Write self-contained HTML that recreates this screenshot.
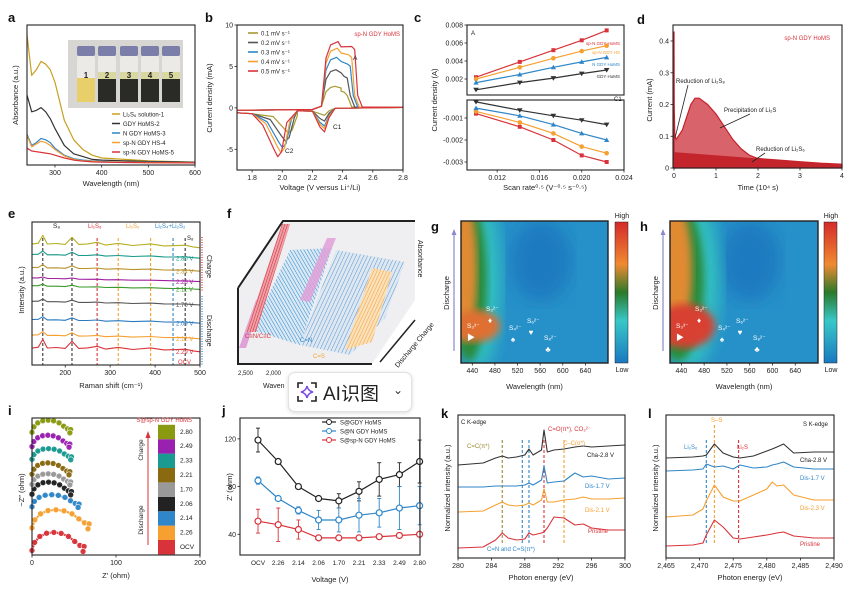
<!DOCTYPE html>
<html><head><meta charset="utf-8"><style>
html,body{margin:0;padding:0;background:#fff;}
svg{display:block;font-family:"Liberation Sans","Noto Sans CJK SC",sans-serif;}
</style></head><body>
<svg id="fig" width="865" height="589" viewBox="0 0 865 589" xmlns="http://www.w3.org/2000/svg">
<defs>
<linearGradient id="cbar" x1="0" y1="0" x2="0" y2="1">
<stop offset="0" stop-color="#d42a2a"/><stop offset="0.3" stop-color="#f08a30"/><stop offset="0.5" stop-color="#2a7a2a"/><stop offset="0.7" stop-color="#38c8c8"/><stop offset="1" stop-color="#1a78c0"/>
</linearGradient>
<filter id="blur8"><feGaussianBlur stdDeviation="8"/></filter>
<filter id="blur4"><feGaussianBlur stdDeviation="4"/></filter>
<clipPath id="clipG"><rect x="461" y="221" width="147" height="142"/></clipPath>
<clipPath id="clipH"><rect x="670" y="221" width="148" height="142"/></clipPath>
<pattern id="pBlue" width="3" height="3" patternUnits="userSpaceOnUse" patternTransform="rotate(-30)"><rect width="3" height="3" fill="#d8e8f4"/><line x1="0" y1="0" x2="0" y2="3" stroke="#2f86c8" stroke-width="1"/></pattern>
<pattern id="pRed" width="2.5" height="3" patternUnits="userSpaceOnUse" patternTransform="rotate(18)"><rect width="3" height="3" fill="#f0a0a8"/><line x1="0" y1="0" x2="0" y2="3" stroke="#d0303a" stroke-width="1.1"/></pattern>
<pattern id="pOra" width="3" height="3" patternUnits="userSpaceOnUse" patternTransform="rotate(25)"><rect width="3" height="3" fill="#fbe0b8"/><line x1="0" y1="0" x2="0" y2="3" stroke="#f0a040" stroke-width="1"/></pattern>
<pattern id="pBlue2" width="3.5" height="3" patternUnits="userSpaceOnUse" patternTransform="rotate(25)"><rect width="4" height="3" fill="#dde8f2"/><line x1="0" y1="0" x2="0" y2="3" stroke="#4a8ac8" stroke-width="0.9"/></pattern>
</defs>
<rect x="0" y="0" width="865" height="589" fill="#fff"/>
</svg>
<script>
// ---------- data ----------
const aWave=[240,250,260,270,280,290,300,320,340,360,380,400,450,500,600];
const aLi2S6=[0.93,0.64,0.68,0.74,0.72,0.68,0.59,0.32,0.18,0.11,0.07,0.05,0.04,0.03,0.02];
const aGDY=[0.50,0.38,0.39,0.41,0.38,0.33,0.26,0.14,0.08,0.06,0.04,0.035,0.03,0.025,0.02];
const aNGDY=[0.22,0.14,0.16,0.19,0.18,0.16,0.12,0.07,0.045,0.035,0.03,0.025,0.02,0.02,0.015];
const aSpHS=[0.21,0.13,0.15,0.17,0.16,0.14,0.11,0.065,0.04,0.03,0.027,0.023,0.02,0.018,0.015];
const aSpHoMS=[0.12,0.10,0.095,0.09,0.085,0.08,0.07,0.05,0.035,0.027,0.022,0.02,0.018,0.016,0.015];
const aTicks=[300,400,500,600];

const cvRates=['0.1','0.2','0.3','0.4','0.5'];
const cvPeakA=[2.6,4.6,6.1,7.2,8.0];
const cvPeakA2=[2.0,3.8,5.3,6.4,7.4];
const cvEndA=[2.41,2.43,2.45,2.46,2.48];
const cvC1=[-0.9,-1.6,-2.2,-2.5,-2.9];
const cvC2=[-3.0,-4.0,-4.8,-5.4,-5.9];
const cvC2V=[2.04,2.02,2.00,1.99,1.97];
const bXTicks=[1.8,2.0,2.2,2.4,2.6,2.8];
const bYTicks=[10,5,0,-5];

const cRate=[0.010,0.01414,0.01732,0.020,0.02236];
const cA_sp=[0.0022,0.0039,0.0052,0.0063,0.0074];
const cA_hs=[0.0020,0.0033,0.0043,0.0051,0.0057];
const cA_n=[0.0016,0.0025,0.0033,0.0039,0.0044];
const cA_g=[0.0008,0.0016,0.0021,0.0026,0.0030];
const cC_g=[-0.00027,-0.00065,-0.0009,-0.0011,-0.0013];
const cC_n=[-0.00055,-0.0009,-0.0013,-0.0017,-0.0020];
const cC_hs=[-0.0007,-0.0012,-0.0017,-0.0023,-0.0026];
const cC_sp=[-0.0008,-0.0014,-0.002,-0.0027,-0.0030];
const cXTicks=[0.012,0.016,0.020,0.024];

const dTime=[0,0.005,0.02,0.05,0.1,0.2,0.3,0.4,0.5,0.6,0.8,1.0,1.2,1.4,1.6,1.8,2.0,2.5,3,3.5,4];
const dCurrent=[0.43,0.2,0.1,0.09,0.1,0.12,0.16,0.2,0.22,0.22,0.2,0.17,0.13,0.09,0.06,0.04,0.03,0.025,0.02,0.015,0.012];
const dBase=[0.05,0.01];
const dYTicks=[0,0.1,0.2,0.3,0.4];
const dXTicks=[0,1,2,3,4];

const eShift=[126,140,150,160,180,200,215,230,250,271,290,318,350,390,420,440,467,485,500];
const eProfile=[0,0.3,2.5,0.2,0.4,0.2,2.2,0.3,0.5,1.0,0.3,0.8,0.3,0.8,0.3,0.4,0.6,0.2,0];
const eOffset=[40,36,31,27,24,18,11,5,0];
const eScale=[1.4,0.6,0.5,0.2,0.3,0.4,0.5,0.6,1.4];
const eLabels=['','2.80 V','2.34 V','2.26 V','2.11 V','1.70 V','2.09 V','2.12 V','2.29 V','OCV'];
const eXTicks=[200,300,400,500];

const iWidth=[62,68,56,47,46,45,47,45,46];
const iHeight=[24,24,16,16,14,15,14,15,16];
const iBase=[3,30,56,71,83,95,113,128,145];
const iShapeU=[0,0.05,0.15,0.28,0.42,0.56,0.7,0.82,0.92,1.0,0.98];
const iShapeV=[0.1,0.5,0.8,0.96,1,0.95,0.8,0.55,0.35,0.3,0.05];
const iLabels=['OCV','2.26','2.14','2.06','1.70','2.21','2.33','2.49','2.80'];
const iXTicks=[0,100,200];

const jCats=['OCV','2.26','2.14','2.06','1.70','2.21','2.33','2.49','2.80'];
const jGDY=[119,101,80,70,68,76,86,90,101];
const jGDYerr=[10,0,0,0,6,8,14,10,18];
const jN=[85,70,60,52,52,56,58,62,64];
const jNerr=[3,0,3,8,10,14,12,18,16];
const jSp=[51,48,44,37,37,37,38,39,40];
const jSperr=[10,14,8,0,0,0,0,0,0];
const jYTicks=[40,80,120];

const kE=[280,283,284.5,285.3,286,287,288,288.5,289,290,290.3,290.7,291.5,292.7,294,295,296,298,300];
const kCha=[10,10.2,10.7,10.9,10.7,10.8,11,11.6,11,11.5,13.5,11.3,11.5,11.6,11.8,11.9,11.8,11.9,12];
const kDis17=[7.8,7.8,7.9,7.9,7.9,7.9,8,8.2,8,8.5,9.9,8.2,8.3,8.4,9.2,8.8,8.9,8.6,8.7];
const kDis21=[5.3,5.4,6,6.3,6,5.9,6,6.2,6,6.5,7.6,6.3,6.3,6.5,6.6,6.8,6.6,6.6,6.7];
const kPri=[1.7,1.8,2.5,3.2,2.7,2.5,2.6,3.2,3,3.2,3.3,3.7,4.8,4.7,4,4.1,3.7,3.5,3.5];
const kXTicks=[280,284,288,292,296,300];

const lE=[2465,2469,2470.5,2471,2472.2,2473.5,2475,2476,2478,2480,2480.8,2481.5,2482.5,2484,2487,2490];
const lCha=[10.7,10.8,10.9,11.0,12.1,11.2,10.8,10.7,10.9,11.4,11.6,11.8,12.1,11.2,11.3,11.3];
const lDis17=[9.4,9.5,9.6,10.1,9.8,9.9,9.6,10.0,9.7,9.8,10.0,10.1,10.3,9.8,9.6,9.6];
const lDis23=[4.8,5.0,5.6,6.4,8.0,6.8,6.4,6.4,7.0,7.6,8.3,7.9,8.0,7.0,6.5,6.5];
const lPri=[1.9,2.0,2.2,3.0,4.5,3.8,2.7,2.6,2.8,3.0,3.1,3.2,3.3,2.9,2.7,2.7];
const lXTicks=[2465,2470,2475,2480,2485,2490];

// ---------- helpers ----------
const NS='http://www.w3.org/2000/svg';
const svg=document.getElementById('fig');
function mk(tag,at,name,parent){
  const el=document.createElementNS(NS,tag);
  for(const k in at) el.setAttribute(k,at[k]);
  
  
  (parent||svg).appendChild(el);
  return el;
}
function txt(x,y,s,name,o){
  o=o||{};
  const el=mk('text',{x:x,y:y,'font-size':o.fs||7,fill:o.fill||'#222','text-anchor':o.anchor||'start','font-weight':o.fw||'normal'},name);
  if(o.rot) el.setAttribute('transform','rotate('+o.rot+' '+x+' '+y+')');
  el.textContent=s;
  return el;
}
function sc(d0,d1,r0,r1){return v=>r0+(v-d0)*(r1-r0)/(d1-d0);}
function box(x0,y0,x1,y1,name){mk('rect',{x:x0,y:y0,width:x1-x0,height:y1-y0,fill:'none',stroke:'#222','stroke-width':1.1},name);}
function line(xs,ys,X,Y,color,name,w,dash){
  let d='';for(let i=0;i<xs.length;i++) d+=(i?'L':'M')+X(xs[i]).toFixed(1)+' '+Y(ys[i]).toFixed(1);
  const at={d:d,fill:'none',stroke:color,'stroke-width':w||1.2,'stroke-linejoin':'round'};
  if(dash) at['stroke-dasharray']=dash;
  return mk('path',at,name);
}
function xticks(ticks,X,y,name,fmt){ticks.forEach(t=>{mk('line',{x1:X(t),y1:y,x2:X(t),y2:y+2.5,stroke:'#222','stroke-width':0.8},name+'-tick');txt(X(t),y+10,fmt?fmt(t):String(t),name+'-label',{anchor:'middle'});});}
function yticks(ticks,Y,x,name,fmt){ticks.forEach(t=>{mk('line',{x1:x-2.5,y1:Y(t),x2:x,y2:Y(t),stroke:'#222','stroke-width':0.8},name+'-tick');txt(x-4,Y(t)+2.5,fmt?fmt(t):String(t),name+'-label',{anchor:'end'});});}
function vdash(x,y0,y1,color,name,dash){mk('line',{x1:x,y1:y0,x2:x,y2:y1,stroke:color,'stroke-width':1.1,'stroke-dasharray':dash||'3,2'},name);}
function letter(x,y,s){txt(x,y,s,'panel-label-'+s,{fs:13,fw:'bold',fill:'#111'});}
const RED='#d8333a',ORA='#f5a030',BLU='#2f86c8',BLK='#333',GOLD='#c8a020';

// ---------- panel a ----------
letter(8,22,'a');
{const X=sc(240,600,27,195),Y=sc(0,1,165,25);
 mk('rect',{x:68,y:40,width:115,height:68,fill:'#d8d6d2'},'vial-photo');
 const vx=[77,98,120,141,162];
 vx.forEach((x,i)=>{mk('rect',{x:x,y:46,width:18,height:10,fill:'#7a7ea8',rx:2},'vial-cap');
   mk('rect',{x:x,y:56,width:18,height:46,fill:'#eceae6',rx:2},'vial-body');
   mk('rect',{x:x,y:78,width:18,height:24,fill:i==0?'#e8cf6a':'#2a2a26'},'vial-liquid');
   if(i>0) mk('rect',{x:x,y:72,width:18,height:7,fill:'#d9d8a0'},'vial-supernatant');
   txt(x+9,78,String(i+1),'vial-number',{fs:8,anchor:'middle',fw:'bold',fill:'#222'});});
 line(aWave,aLi2S6,X,Y,GOLD,'line-li2s6');line(aWave,aGDY,X,Y,BLK,'line-gdy-homs');
 line(aWave,aNGDY,X,Y,BLU,'line-n-gdy-homs');line(aWave,aSpHS,X,Y,ORA,'line-sp-n-gdy-hs');line(aWave,aSpHoMS,X,Y,RED,'line-sp-n-gdy-homs');
 box(27,25,195,165,'plot-a-frame');xticks(aTicks,X,165,'a-x');
 txt(111,186,'Wavelength (nm)','a-x-title',{fs:7.5,anchor:'middle'});
 txt(18,95,'Absorbance (a.u.)','a-y-title',{fs:7.5,anchor:'middle',rot:-90});
 const lg=[['Li₂S₆ solution-1',GOLD],['GDY HoMS-2',BLK],['N GDY HoMS-3',BLU],['sp-N GDY HS-4',ORA],['sp-N GDY HoMS-5',RED]];
 lg.forEach((l,i)=>{mk('line',{x1:112,y1:114+i*9.5,x2:120,y2:114+i*9.5,stroke:l[1],'stroke-width':1.5},'legend-a-swatch');txt(123,116.5+i*9.5,l[0],'legend-a-entry',{fs:6});});
}
// ---------- panel b ----------
letter(205,22,'b');
{const X=sc(1.7,2.8,237,403),Y=sc(-7.5,10,170,25);
 const cols=['#a89a30','#555',BLU,ORA,RED];
 cvRates.forEach((r,i)=>{
  const pa=cvPeakA[i],pb=cvPeakA2[i],ea=cvEndA[i],c1=cvC1[i],c2=cvC2[i],cv=cvC2V[i];
  const vs=[1.7,2.2,2.26,2.29,2.32,2.35+i*0.005,2.39,ea-0.02,ea,ea+0.02,ea+0.05,2.8,2.35,2.31,2.28,2.25,2.2,2.1,cv+0.06,cv+0.025,cv,cv-0.025,cv-0.1,1.8,1.7];
  const is=[-0.3,-0.2,0.2,pa*0.75,pa*0.95,pa,pa*0.92,pb,pb*0.95,1.5,0.1,0.05,-0.05,c1*0.4,c1,c1*0.8,-0.4,-0.35,c2*0.3,c2*0.9,c2,c2*0.85,c2*0.35,-0.7,-0.6];
  line(vs,is,X,Y,cols[i],'cv-curve-'+r);
  mk('line',{x1:248,y1:33+i*9.5,x2:258,y2:33+i*9.5,stroke:cols[i],'stroke-width':1.6},'legend-b-swatch');
  txt(261,35.5+i*9.5,r+' mV s⁻¹','legend-b-entry',{fs:6});});
 box(237,25,403,170,'plot-b-frame');xticks(bXTicks,X,170,'b-x',t=>t.toFixed(1));yticks(bYTicks,Y,237,'b-y');
 txt(320,190,'Voltage (V versus Li⁺/Li)','b-x-title',{fs:7.5,anchor:'middle'});
 txt(212,98,'Current density (mA)','b-y-title',{fs:7.5,anchor:'middle',rot:-90});
 txt(400,36,'sp-N GDY HoMS','b-title',{fs:6,fill:RED,anchor:'end'});
 txt(353,60,'A','b-peak-a',{fs:6.5});txt(333,129,'C1','b-peak-c1',{fs:6.5});txt(285,153,'C2','b-peak-c2',{fs:6.5});
}
// ---------- panel c ----------
letter(414,22,'c');
{const X=sc(0.010,0.024,476,624),Yt=sc(0,0.008,97,25),Yb=sc(0,-0.003,96,162);
 const cols=[RED,ORA,BLU,BLK];
 const top=[cA_sp,cA_hs,cA_n,cA_g],bot=[cC_sp,cC_hs,cC_n,cC_g];
 const mks=['square','circle','tri','tridown'];
 function marker(x,y,t,c,name){
   if(t=='square') mk('rect',{x:x-2,y:y-2,width:4,height:4,fill:c},name);
   else if(t=='circle') mk('circle',{cx:x,cy:y,r:2.3,fill:c},name);
   else if(t=='tri') mk('path',{d:`M${x} ${y-2.6}L${x+2.6} ${y+2}L${x-2.6} ${y+2}Z`,fill:c},name);
   else mk('path',{d:`M${x} ${y+2.6}L${x+2.8} ${y-2}L${x-2.8} ${y-2}Z`,fill:c},name);}
 [0,1,2,3].forEach(s=>{line(cRate,top[s],X,Yt,cols[s],'c-a-line-'+s);line(cRate,bot[s],X,Yb,cols[s],'c-c1-line-'+s);
   cRate.forEach((r,i)=>{marker(X(r),Yt(top[s][i]),mks[s],cols[s],'c-a-point');marker(X(r),Yb(bot[s][i]),mks[s],cols[s],'c-c1-point');});});
 box(467,25,624,95,'plot-c-top-frame');box(467,100,624,170,'plot-c-bottom-frame');
 yticks([0.002,0.004,0.006,0.008],Yt,467,'c-y-top',t=>t.toFixed(3));
 yticks([-0.001,-0.002,-0.003],Yb,467,'c-y-bottom',t=>t.toFixed(3));
 xticks(cXTicks,X,170,'c-x',t=>t.toFixed(3));
 txt(545,190,'Scan rate⁰·⁵ (V⁻⁰·⁵ s⁻⁰·⁵)','c-x-title',{fs:7.5,anchor:'middle'});
 txt(437,100,'Current density (A)','c-y-title',{fs:7.5,anchor:'middle',rot:-90});
 txt(471,35,'A','c-label-a',{fs:6});txt(614,101,'C1','c-label-c1',{fs:6});
 txt(620,45,'sp-N GDY HoMS','c-legend-sp',{fs:4.5,fill:RED,anchor:'end'});txt(620,54,'sp-N GDY HS','c-legend-hs',{fs:4.5,fill:ORA,anchor:'end'});
 txt(620,66,'N GDY HoMS','c-legend-n',{fs:4.5,fill:BLU,anchor:'end'});txt(620,78,'GDY HoMS','c-legend-gdy',{fs:4.5,fill:BLK,anchor:'end'});
}
// ---------- panel d ----------
letter(637,24,'d');
{const X=sc(0,4,674,842),Y=sc(0,0.4,168,41);
 let d='M'+X(0)+' '+Y(0);dTime.forEach((t,i)=>d+='L'+X(t).toFixed(1)+' '+Y(dCurrent[i]).toFixed(1));d+='L'+X(4)+' '+Y(0)+'Z';
 mk('path',{d:d,fill:'#d8636a',stroke:'#c8202a','stroke-width':1.2},'d-precipitation-area');
 mk('path',{d:`M${X(0)} ${Y(0)}L${X(0)} ${Y(dBase[0])}L${X(4)} ${Y(dBase[1])}L${X(4)} ${Y(0)}Z`,fill:'#c4242c'},'d-reduction-area');
 box(673,25,842,168,'plot-d-frame');xticks(dXTicks,X,168,'d-x');yticks(dYTicks,Y,673,'d-y');
 txt(758,190,'Time (10⁴ s)','d-x-title',{fs:7.5,anchor:'middle'});
 txt(652,100,'Current (mA)','d-y-title',{fs:7.5,anchor:'middle',rot:-90});
 txt(830,40,'sp-N GDY HoMS','d-title',{fs:6,fill:RED,anchor:'end'});
 txt(676,83,'Reduction of Li₂S₈','d-annot-1',{fs:6});mk('line',{x1:688,y1:85,x2:675,y2:138,stroke:'#222','stroke-width':0.8},'d-arrow-1');
 txt(724,112,'Precipitation of Li₂S','d-annot-2',{fs:6});mk('line',{x1:750,y1:114,x2:720,y2:128,stroke:'#222','stroke-width':0.8},'d-arrow-2');
 txt(756,151,'Reduction of Li₂S₆','d-annot-3',{fs:6});mk('line',{x1:765,y1:153,x2:752,y2:162,stroke:'#222','stroke-width':0.8},'d-arrow-3');
}
// ---------- panel e ----------
letter(8,218,'e');
{const X=sc(126,500,32,200),Y=sc(0,40,352,248);
 const cols=['#b5b020','#1a9a8a','#b8922a','#a020a0','#3a9a2a','#555','#2a7ac0',ORA,RED];
 [[150,BLK],[215,BLK],[271,RED],[318,ORA],[390,ORA],[440,BLU],[467,BLK]].forEach(p=>vdash(X(p[0]),238,365,p[1],'e-ref-line'));
 cols.forEach((c,k)=>{const ys=eProfile.map((p,i)=>eOffset[k]+p*eScale[k]+(1-i/eShift.length)*1.5);line(eShift,ys,X,Y,c,'raman-spectrum-'+k,1.1);
   if(k>0) txt(176,Y(eOffset[k])+2,eLabels[k],'e-voltage-label',{fs:6,fill:c});});
 txt(178,364,'OCV','e-voltage-label',{fs:6,fill:RED});
 box(32,222,200,365,'plot-e-frame');xticks(eXTicks,X,365,'e-x');
 txt(111,388,'Raman shift (cm⁻¹)','e-x-title',{fs:7.5,anchor:'middle'});
 txt(24,290,'Intensity (a.u.)','e-y-title',{fs:7.5,anchor:'middle',rot:-90});
 txt(53,228,'S₈','e-s8',{fs:6.5});txt(88,228,'Li₂S₈','e-li2s8',{fs:6,fill:RED});txt(126,228,'Li₂S₆','e-li2s6',{fs:6,fill:ORA});
 txt(155,228,'Li₂S₄+Li₂S₂','e-li2s4',{fs:6,fill:BLU});txt(187,240,'S₈','e-s8-2',{fs:6});
 mk('line',{x1:202,y1:237,x2:202,y2:292,stroke:RED,'stroke-width':1.3,'stroke-dasharray':'1,1.5'},'e-charge-bar');
 mk('line',{x1:202,y1:296,x2:202,y2:366,stroke:BLU,'stroke-width':1.3,'stroke-dasharray':'1,1.5'},'e-discharge-bar');
 txt(207,255,'Charge','e-charge-text',{fs:7,rot:90});txt(207,315,'Discharge','e-discharge-text',{fs:7,rot:90});
}
// ---------- panel f (3D FTIR) ----------
letter(227,218,'f');
{mk('path',{d:'M238 288L283 221L415 221L415 300L372 364L238 364Z',fill:'#efeff2'},'f-background');
 mk('path',{d:'M252 330L290 250L332 248L300 345Z',fill:'url(#pBlue)'},'f-band-blue');
 mk('path',{d:'M300 345L336 250L405 262L385 318L350 355Z',fill:'url(#pBlue2)'},'f-band-blue2');
 mk('path',{d:'M345 350L372 268L392 272L372 342Z',fill:'url(#pOra)'},'f-band-cs');
 mk('path',{d:'M300 300L327 238L336 238L310 302Z',fill:'#e0a0d8',opacity:0.85},'f-peak-pink2');
 mk('path',{d:'M239 348L246 348L262 300L256 300Z',fill:'#e0a0d8'},'f-peak-pink');
 mk('path',{d:'M246 332L256 332L290 224L282 224Z',fill:'url(#pRed)'},'f-peak-cn');
 mk('path',{d:'M238 288L283 221L415 221M238 288L238 364L372 364',fill:'none',stroke:'#222','stroke-width':2},'f-axes');
 mk('path',{d:'M380 362L415 320',fill:'none',stroke:'#222','stroke-width':1.5},'f-depth-axis');
 txt(245,338,'C≡N/C≡C','f-label-cn',{fs:6,fill:RED});txt(300,342,'C=N','f-label-c-n',{fs:6,fill:BLU});txt(313,358,'C=S','f-label-c-s',{fs:6,fill:ORA});
 txt(418,240,'Absorbance','f-z-title',{fs:7,rot:90});txt(398,368,'Discharge  Charge','f-y-title',{fs:7,rot:-50});
 txt(238,375,'2,500','f-x-label',{fs:6});txt(266,375,'2,000','f-x-label',{fs:6});txt(263,388,'Waven','f-x-title',{fs:7});
}
// ---------- panels g,h heatmaps ----------
function heat(x0,y0,w,h,clip,name,strong){
 const g=mk('g',{'clip-path':'url(#'+clip+')'},name);
 mk('rect',{x:x0,y:y0,width:w,height:h,fill:'#2690c8'},name+'-bg',g);
 mk('ellipse',{cx:x0+80,cy:y0+40,rx:30,ry:40,fill:'#1a7ac0',filter:'url(#blur8)'},name+'-dark',g);
 mk('ellipse',{cx:x0+18,cy:y0+60,rx:strong?32:22,ry:90,fill:'#30c0c0',filter:'url(#blur8)'},name+'-cyan',g);
 mk('ellipse',{cx:x0+8,cy:y0+60,rx:strong?26:18,ry:80,fill:'#2a8a3a',filter:'url(#blur4)'},name+'-green',g);
 mk('ellipse',{cx:x0+4,cy:y0+50,rx:strong?18:12,ry:70,fill:'#e08a30',filter:'url(#blur4)'},name+'-orange',g);
 mk('ellipse',{cx:x0+15,cy:y0+105,rx:strong?30:24,ry:strong?22:16,fill:strong?'#d84030':'#e07030',filter:'url(#blur4)'},name+'-hot',g);
 mk('rect',{x:x0,y:y0,width:w,height:h,fill:'none',stroke:'#222','stroke-width':1.4},name+'-frame');
}
function heatAxes(x0,y0,w,h,cb,L){
 letter(x0-30,y0+10,L);
 const X=sc(420,680,x0,x0+w);
 xticks([440,480,520,560,600,640],X,y0+h,L+'-x');
 txt(x0+w/2,y0+h+26,'Wavelength (nm)',L+'-x-title',{fs:7.5,anchor:'middle'});
 mk('line',{x1:x0-7,y1:y0+130,x2:x0-7,y2:y0+10,stroke:'#8a8ac8','stroke-width':1.2},L+'-discharge-arrow');
 mk('path',{d:`M${x0-9.5} ${y0+14}L${x0-7} ${y0+8}L${x0-4.5} ${y0+14}Z`,fill:'#8a8ac8'},L+'-arrowhead');
 txt(x0-12,y0+72,'Discharge',L+'-y-title',{fs:7.5,anchor:'middle',rot:-90});
 mk('rect',{x:cb,y:y0+1,width:13,height:h-1,fill:'url(#cbar)',stroke:'#222','stroke-width':0.5},L+'-colorbar');
 txt(cb+7,y0-3,'High',L+'-colorbar-high',{fs:7,anchor:'middle'});txt(cb+7,y0+h+9,'Low',L+'-colorbar-low',{fs:7,anchor:'middle'});
 const sp=[['S₃³⁻',x0+6,y0+115],['S₃²⁻',x0+25,y0+98],['S₄²⁻',x0+48,y0+117],['S₆²⁻',x0+66,y0+110],['S₈²⁻',x0+83,y0+127]];
 const sy=['▶','♦','♠','♥','♣'];
 sp.forEach((s,i)=>{txt(s[1],s[2]-8,s[0],L+'-species-label',{fs:6.5,fill:'#fff'});txt(s[1]+4,s[2]+4,sy[i],L+'-species-marker',{fs:8,fill:'#fff',anchor:'middle'});});
}
heat(461,221,147,142,'clipG','heatmap-g',false);heatAxes(461,221,147,142,615,'g');
heat(670,221,148,142,'clipH','heatmap-h',true);heatAxes(670,221,148,142,824,'h');
// ---------- panel i ----------
letter(8,415,'i');
{const X=sc(0,200,32,200),Y=sc(0,160,555,421);
 const cols=[RED,ORA,BLU,'#222','#999','#8a6a10','#1a9a90','#9a20b0','#8a9a10'];
 cols.forEach((c,k)=>{const xs=iShapeU.map(u=>u*iWidth[k]),ys=iShapeV.map(v=>iBase[k]+v*iHeight[k]);
   line(xs,ys,X,Y,c,'nyquist-arc-'+iLabels[k],2.2);
   xs.forEach((x,i)=>mk('circle',{cx:X(x),cy:Y(ys[i]),r:3,fill:c,stroke:'#fff','stroke-width':0.6,opacity:0.95},'nyquist-point'));
   mk('rect',{x:158,y:540-k*14.4,width:17,height:14.4,fill:c},'i-legend-block');
   txt(180,549-k*14.4,iLabels[k],'i-legend-label',{fs:6.5});});
 box(32,418,200,555,'plot-i-frame');xticks(iXTicks,X,555,'i-x');
 txt(116,578,'Z′ (ohm)','i-x-title',{fs:7.5,anchor:'middle'});
 txt(24,490,'−Z″ (ohm)','i-y-title',{fs:7.5,anchor:'middle',rot:-90});
 txt(192,422,'S@sp-N GDY HoMS','i-title',{fs:6,fill:RED,anchor:'end'});
 mk('line',{x1:148,y1:545,x2:148,y2:435,stroke:RED,'stroke-width':1},'i-arrow');
 mk('path',{d:'M145.5 438L148 431L150.5 438Z',fill:RED},'i-arrowhead');
 txt(143,450,'Charge','i-charge',{fs:6.5,rot:-90,anchor:'middle'});txt(143,520,'Discharge','i-discharge',{fs:6.5,rot:-90,anchor:'middle'});
}
// ---------- panel j ----------
letter(222,415,'j');
{const X=i=>258+i*20.2,Y=sc(0,140,582,415);
 const S=[[jGDY,jGDYerr,'#222','S@GDY HoMS'],[jN,jNerr,BLU,'S@N GDY HoMS'],[jSp,jSperr,RED,'S@sp-N GDY HoMS']];
 S.forEach((s,k)=>{line(jCats.map((c,i)=>i),s[0],X,Y,s[2],'j-line-'+k,1.2);
   s[0].forEach((v,i)=>{if(s[1][i]>0){mk('line',{x1:X(i),y1:Y(v-s[1][i]),x2:X(i),y2:Y(v+s[1][i]),stroke:s[2],'stroke-width':0.9},'j-errorbar');
     mk('line',{x1:X(i)-2,y1:Y(v+s[1][i]),x2:X(i)+2,y2:Y(v+s[1][i]),stroke:s[2],'stroke-width':0.9},'j-errorcap');mk('line',{x1:X(i)-2,y1:Y(v-s[1][i]),x2:X(i)+2,y2:Y(v-s[1][i]),stroke:s[2],'stroke-width':0.9},'j-errorcap');}
     mk('circle',{cx:X(i),cy:Y(v),r:3,fill:'#fff',stroke:s[2],'stroke-width':1.2},'j-point');});
   mk('line',{x1:322,y1:422+k*9,x2:336,y2:422+k*9,stroke:s[2],'stroke-width':1.2},'legend-j-swatch');
   mk('circle',{cx:329,cy:422+k*9,r:2.5,fill:'#fff',stroke:s[2]},'legend-j-marker');
   txt(340,424.5+k*9,s[3],'legend-j-entry',{fs:6});});
 box(240,418,420,555,'plot-j-frame');yticks(jYTicks,Y,240,'j-y');
 jCats.forEach((c,i)=>txt(X(i),565,c,'j-x-label',{anchor:'middle',fs:6.5}));
 txt(330,582,'Voltage (V)','j-x-title',{fs:7.5,anchor:'middle'});
 txt(232,487,'Z′ (ohm)','j-y-title',{fs:7.5,anchor:'middle',rot:-90});
}
// ---------- panel k ----------
letter(441,418,'k');
{const X=sc(280,300,458,625),Y=sc(0,15,565,415);
 [[285.3,'#9a8a30'],[287.7,BLU],[288.5,BLU],[290.3,RED],[292.7,ORA]].forEach(p=>vdash(X(p[0]),440,545,p[1],'k-ref-line'));
 line(kE,kCha,X,Y,'#333','k-cha-2.8',1.1);line(kE,kDis17,X,Y,BLU,'k-dis-1.7',1.1);line(kE,kDis21,X,Y,ORA,'k-dis-2.1',1.1);line(kE,kPri,X,Y,RED,'k-pristine',1.1);
 box(458,415,625,558,'plot-k-frame');xticks(kXTicks,X,558,'k-x');
 txt(541,580,'Photon energy (eV)','k-x-title',{fs:7.5,anchor:'middle'});
 txt(450,488,'Normalized intensity (a.u.)','k-y-title',{fs:7.5,anchor:'middle',rot:-90});
 txt(461,424,'C K-edge','k-title',{fs:6});txt(467,448,'C=C(π*)','k-label-cc',{fs:6,fill:'#9a8a30'});
 txt(548,431,'C=O(π*), CO₃²⁻','k-label-co',{fs:6,fill:RED});txt(563,445,'C–C(σ*)','k-label-c-c',{fs:6,fill:ORA});
 txt(487,551,'C=N and C=S(π*)','k-label-cn',{fs:6,fill:BLU});
 txt(587,457,'Cha-2.8 V','k-legend-cha',{fs:6,fill:'#222'});txt(585,488,'Dis-1.7 V','k-legend-dis17',{fs:6,fill:BLU});
 txt(585,512,'Dis-2.1 V','k-legend-dis21',{fs:6,fill:ORA});txt(588,533,'Pristine','k-legend-pristine',{fs:6,fill:RED});
}
// ---------- panel l ----------
letter(648,418,'l');
{const X=sc(2465,2490,666,834),Y=sc(0,15,565,415);
 vdash(X(2471),440,545,BLU,'l-ref-li2s6');vdash(X(2472.2),425,545,ORA,'l-ref-ss');vdash(X(2475.8),440,545,RED,'l-ref-li2s');
 line(lE,lCha,X,Y,'#333','l-cha-2.8',1.1);line(lE,lDis17,X,Y,BLU,'l-dis-1.7',1.1);line(lE,lDis23,X,Y,ORA,'l-dis-2.3',1.1);line(lE,lPri,X,Y,RED,'l-pristine',1.1);
 box(666,415,834,558,'plot-l-frame');xticks(lXTicks,X,558,'l-x',t=>t.toLocaleString('en-US'));
 txt(750,580,'Photon energy (eV)','l-x-title',{fs:7.5,anchor:'middle'});
 txt(658,488,'Normalized intensity (a.u.)','l-y-title',{fs:7.5,anchor:'middle',rot:-90});
 txt(828,426,'S K-edge','l-title',{fs:6,anchor:'end'});txt(711,422,'S–S','l-label-ss',{fs:6,fill:ORA});
 txt(684,449,'Li₂S₆','l-label-li2s6',{fs:6,fill:BLU});txt(737,449,'Li₂S','l-label-li2s',{fs:6,fill:RED});
 txt(800,462,'Cha-2.8 V','l-legend-cha',{fs:6});txt(800,480,'Dis-1.7 V','l-legend-dis17',{fs:6,fill:BLU});
 txt(800,510,'Dis-2.3 V','l-legend-dis23',{fs:6,fill:ORA});txt(800,546,'Pristine','l-legend-pristine',{fs:6,fill:RED});
}
</script>
<div style="position:absolute;left:288px;top:372px;width:122px;height:38px;background:#fff;border:1px solid #e2e2e2;border-radius:7px;box-shadow:0 1px 4px rgba(0,0,0,0.15);font-family:'Liberation Sans','Noto Sans CJK SC',sans-serif;">
<svg style="position:absolute;left:8px;top:9px" width="20" height="20" viewBox="0 0 20 20">
<path d="M1 6V1H6M14 1H19V6M19 14V19H14M6 19H1V14" fill="none" stroke="#222" stroke-width="1.6"/>
<path d="M10 4Q11 9 16 10Q11 11 10 16Q9 11 4 10Q9 9 10 4Z" fill="none" stroke="#7a4ae0" stroke-width="1.5"/>
</svg>
<span style="position:absolute;left:34px;top:6px;font-size:19px;color:#222;">AI识图</span>
<span style="position:absolute;left:104px;top:10px;font-size:12px;color:#333;">⌄</span>
</div>
</body></html>
